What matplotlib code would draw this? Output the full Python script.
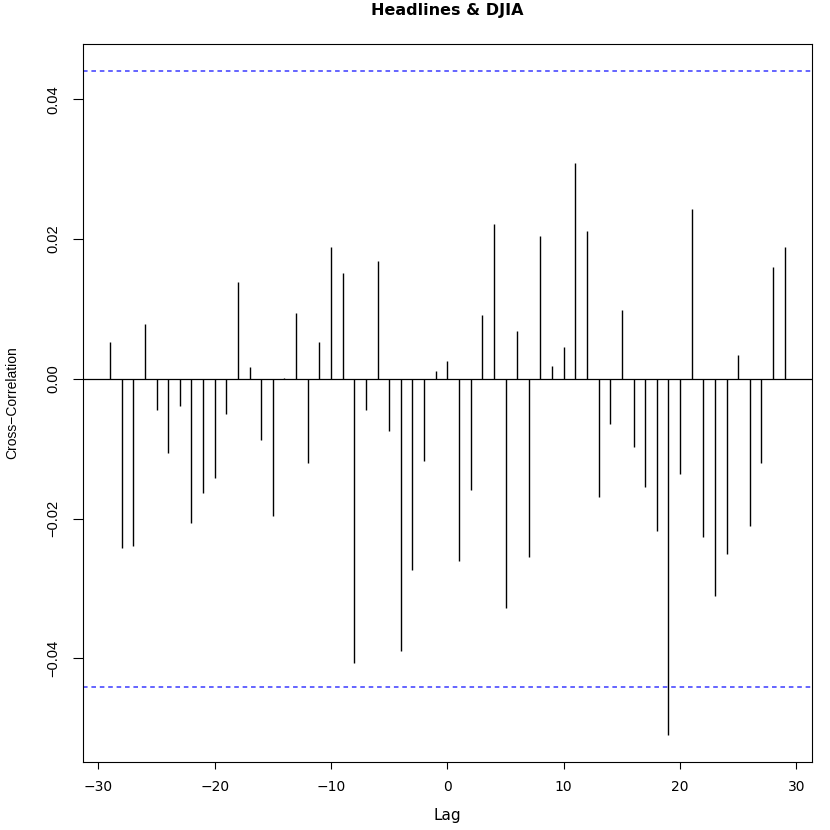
import matplotlib
matplotlib.use("Agg")
from matplotlib import pyplot as plt

# lags and cross-correlations
lags = list(range(-29, 30))
ccf_values = [
  0.0053, -0.0242, -0.0239, 0.0078, -0.0045, -0.0106, -0.0039, -0.0206,
  -0.0164, -0.0142, -0.0051, 0.0139, 0.0017, -0.0088, -0.0196, 0.0001,
  0.0094, -0.0121, 0.0052, 0.0188, 0.0151, -0.0406, -0.0044, 0.0169,
  -0.0074, -0.0389, -0.0273, -0.0118, 0.0011, 0.0025, -0.0260, -0.0159,
  0.0091, 0.0222, -0.0328, 0.0068, -0.0255, 0.0205, 0.0018, 0.0046,
  0.0309, 0.0212, -0.0169, -0.0064, 0.0098, -0.0097, -0.0155, -0.0218,
  -0.0510, -0.0136, 0.0243, -0.0226, -0.0311, -0.0250, 0.0034, -0.0210,
  -0.0121, 0.0160, 0.0189,
]
conf_limit = 0.0441
x_ticks = [-30, -20, -10, 0, 10, 20, 30]
y_ticks = [-0.04, -0.02, 0.00, 0.02, 0.04]

# the reference looks wide horizontally and narrow vertically
wide = ["DejaVu Sans"]
narrow = ["Liberation Sans", "DejaVu Sans"]
plt.rcParams["font.family"] = wide

fig = plt.figure(figsize=(8.3, 8.3), dpi=100)
ax = fig.add_axes([0.1, 0.082, 0.878, 0.865])

ax.vlines(lags, 0, ccf_values, colors="black", linewidth=1.0)
ax.axhline(0, color="black", linewidth=0.9)
for lim in (conf_limit, -conf_limit):
  ax.axhline(lim, color="#3a3aff", linewidth=1.1, linestyle=(0, (3, 2.5)))

# R style 4% padding
ymin = min(min(ccf_values), -conf_limit)
ymax = max(max(ccf_values), conf_limit)
pad = (ymax - ymin) * 0.04
ax.set_ylim(ymin - pad, ymax + pad)
xpad = (lags[-1] - lags[0]) * 0.04
ax.set_xlim(lags[0] - xpad, lags[-1] + xpad)

ax.set_xticks(x_ticks)
ax.set_xticklabels([str(t).replace("-", "\u2212") for t in x_ticks],
                   fontsize=10, family=wide)
ax.set_yticks(y_ticks)
ax.set_yticklabels([f"{t:.2f}".replace("-", "\u2212") for t in y_ticks],
                   rotation=90, va="center", fontsize=10.5, family=narrow)
ax.tick_params(axis="x", direction="out", length=5, width=0.8, pad=8)
ax.tick_params(axis="y", direction="out", length=7.5, width=0.8, pad=9)
for sp in ax.spines.values():
  sp.set_linewidth(0.8)

ax.set_xlabel("Lag", fontsize=11, family=wide)
ax.xaxis.set_label_coords(0.5, -0.064)
ax.set_ylabel("Cross\u2212Correlation", fontsize=10, family=narrow)
ax.yaxis.set_label_coords(-0.088, 0.5)
ax.set_title("Headlines & DJIA", fontsize=11.5, fontweight="bold",
             family=wide, pad=21)

fig.savefig("out.png", dpi=100)
